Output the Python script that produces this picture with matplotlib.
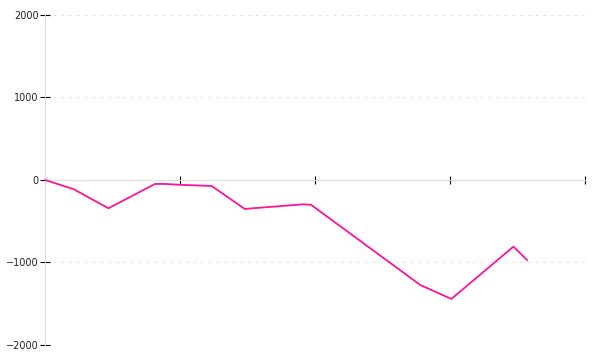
import matplotlib
matplotlib.use("Agg")
import matplotlib.pyplot as plt

# positions along the x axis (tick units) and the plotted values
x_vals = [0, 0.21, 0.47, 0.815, 0.89, 1.0, 1.235, 1.48, 1.54, 1.91, 1.97, 2.78, 3.01, 3.47, 3.57]
y_vals = [0, -110, -343, -48, -48, -58, -73, -352, -343, -295, -300, -1273, -1442, -808, -970]
x_ticks = [0, 1, 2, 3, 4]
y_ticks = [-2000, -1000, 0, 1000, 2000]

fig = plt.figure(figsize=(6, 3.6), dpi=100)
ax = fig.add_axes([0.075, 0.0417, 0.9, 0.9167])

# dotted grid lines
for v in y_ticks:
    if v != 0:
        ax.axhline(v, color="#e6e6e6", lw=0.8, ls=(0, (3, 4)), zorder=0)

ax.plot(x_vals, y_vals, color="#ff1493", lw=1.3, zorder=3)

ax.set_xlim(0, 4)
ax.set_ylim(-2000, 2000)
ax.set_xticks(x_ticks)
ax.set_xticklabels([])
ax.set_yticks(y_ticks)

ax.spines["top"].set_visible(False)
ax.spines["right"].set_visible(False)
ax.spines["bottom"].set_position(("data", 0))
for s in ("left", "bottom"):
    ax.spines[s].set_color("#dddddd")
    ax.spines[s].set_linewidth(0.8)

ax.tick_params(axis="y", direction="inout", length=7, width=0.8, color="black",
               labelsize=7, labelcolor="#222222", pad=1)
ax.tick_params(axis="x", direction="inout", length=6, width=0.8, color="black")

fig.savefig("out.png", dpi=100)
